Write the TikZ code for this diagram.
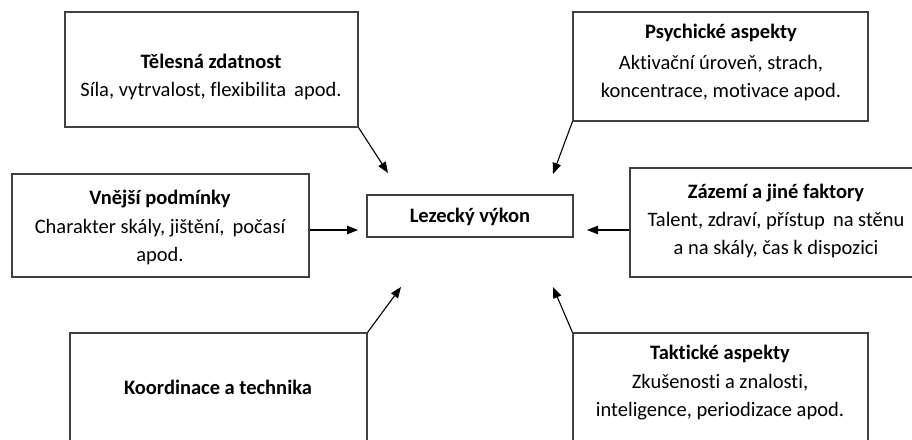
\documentclass[tikz,border=0pt]{standalone}
\usepackage{fontspec}
\setmainfont{Carlito}[Ligatures=CommonOff]
\usetikzlibrary{arrows.meta}
\tikzset{
  boxnode/.style={draw=black!75, line width=1.1pt, rectangle, inner sep=0pt},
  txt/.style={font=\fontsize{20.5}{28}\selectfont, align=center, inner sep=0pt, anchor=base, yshift=-1.5pt},
  arr/.style={line width=1.1pt, -{Triangle[length=11pt,width=8.5pt]}},
}
\newcommand{\mkbox}[5]{\node[boxnode, minimum width=#4-#2, minimum height=#5-#3] (#1) at ({(#2+#4)/2},{(#3+#5)/2}) {};}
\begin{document}
\begin{tikzpicture}[x=1pt,y=-1pt]
\useasboundingbox (0,0) rectangle (912,439);
% boxes
\mkbox{b1}{65}{12}{358}{127}
\mkbox{b2}{573}{12}{868}{121}
\mkbox{b3}{12}{174}{309}{277}
\mkbox{c}{367}{195}{573}{237}
\mkbox{b5}{630}{168}{922}{277}
\mkbox{b6}{70}{333}{367}{460}
\mkbox{b7}{573}{333}{868}{460}
% texts
\node[txt] (t1a) at (211,67) {\textbf{Tělesná zdatnost}};
\node[txt] (t1b) at (211,95) {Síla, vytrvalost, flexibilita\, apod.};
\node[txt] (t2a) at (721,37) {\textbf{Psychické aspekty}};
\node[txt] (t2b) at (721,68) {Aktivační úroveň, strach,};
\node[txt] (t2c) at (721,96) {koncentrace, motivace apod.};
\node[txt] (t3a) at (160,203) {\textbf{Vnější podmínky}};
\node[txt] (t3b) at (160,232) {Charakter skály, jištění,\, počasí};
\node[txt] (t3c) at (160,260) {apod.};
\node[txt] (tc) at (470,221) {\textbf{Lezecký výkon}};
\node[txt] (t5a) at (776,197) {\textbf{Zázemí a jiné faktory}};
\node[txt] (t5b) at (776,225) {Talent, zdraví, přístup\, na stěnu};
\node[txt] (t5c) at (776,253) {a na skály, čas k dispozici};
\node[txt] (t6a) at (218,393) {\textbf{Koordinace a technika}};
\node[txt] (t7a) at (720,358) {\textbf{Taktické aspekty}};
\node[txt] (t7b) at (720,387) {Zkušenosti a znalosti,};
\node[txt] (t7c) at (720,415) {inteligence, periodizace apod.};
% arrow ends
\coordinate (e1) at (388,173);
\coordinate (e2) at (553,174);
\coordinate (e3) at (358,230);
\coordinate (e5) at (587,230);
\coordinate (e6) at (401,287);
\coordinate (e7) at (553,287);
\draw[arr] (b1.south east) -- (e1);
\draw[arr] (b2.south west) -- (e2);
\draw[arr] (b3.east |- e3) -- (e3);
\draw[arr] (b5.west |- e5) -- (e5);
\draw[arr] (b6.north east) -- (e6);
\draw[arr] (b7.north west) -- (e7);
\end{tikzpicture}
\end{document}
